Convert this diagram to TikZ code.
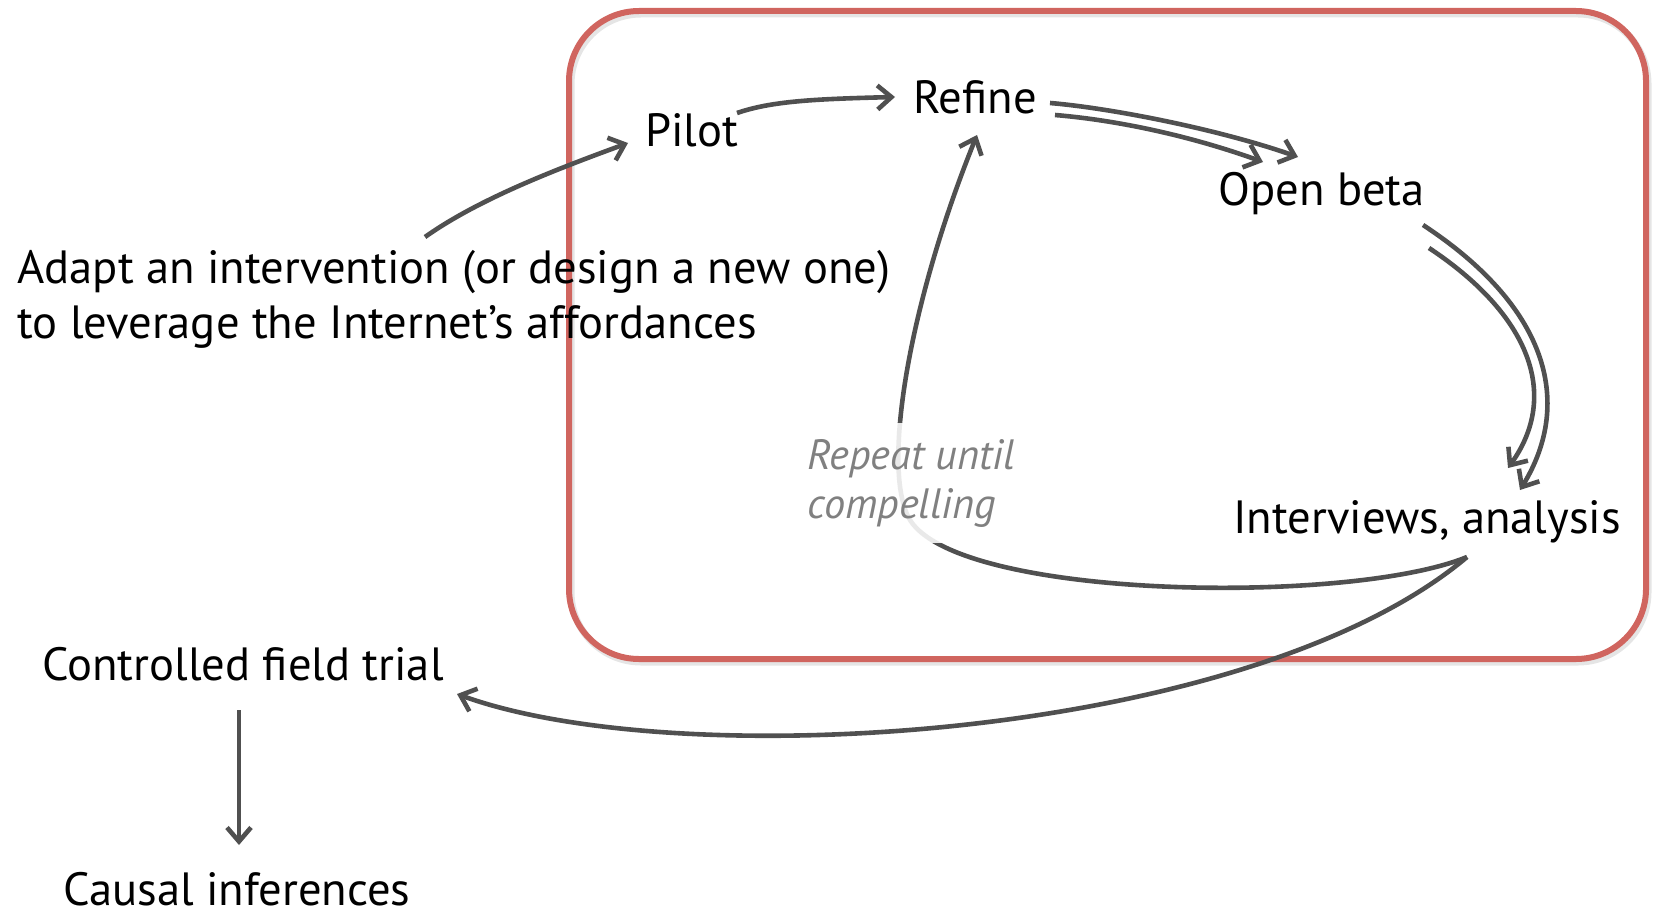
\documentclass[tikz,border=0pt]{standalone}
\usepackage{fontspec}
\setmainfont{PT Sans}
\usepackage{tikz}
\usetikzlibrary{arrows.meta,calc}
\definecolor{linegray}{HTML}{505050}
\definecolor{boxred}{HTML}{D0655F}
\definecolor{notegray}{HTML}{808080}
\newcommand\lblfont{\fontsize{23.3}{27.5}\selectfont}
\newcommand\notefont{\fontsize{21.2}{24.5}\selectfont\itshape}

\begin{document}
\begin{tikzpicture}[x=0.5pt, y=-0.5pt, every node/.style={font=\lblfont, inner sep=0pt, anchor=base west}, >={Straight Barb[length=7pt, width=12pt]}, flow/.style={->, linegray, line width=2.3pt}, note/.style={font=\notefont, text=notegray, align=left, fill=white, fill opacity=0.88, text opacity=1, inner xsep=4pt, inner ysep=8pt}]
	\useasboundingbox (0,0) rectangle (1658,915);
	\draw[black!10, line width=3.5pt, rounded corners=35pt] (571,14) rectangle (1648,662);
	\draw[boxred, line width=3pt, rounded corners=35pt] (569,11) rectangle (1646,659);
	\node (adapt) at (17,338) [align=left] {Adapt an intervention (or design a new one)\\to leverage the Internet’s affordances};
	\node (pilot) at (645,147) {Pilot};
	\node (refine) at (913,113) {Refine};
	\node (openbeta) at (1218,205) {Open beta};
	\node (interviews) at (1233,533) {Interviews, analysis};
	\node (controlled) at (42,680) {Controlled field trial};
	\node (causal) at (63,905) {Causal inferences};
	\draw[flow] ($(adapt.base west)+(408,-101)$) .. controls +(55,-39) and +(-68,25) .. ($(pilot.base west)+(-17,-4)$);
	\draw[flow] ($(pilot.base west)+(92,-34)$) .. controls +(35,-12) and +(-80,2) .. ($(refine.base west)+(-18,-16)$);
	\draw[flow] ($(refine.base west)+(137,-10)$) .. controls +(60,5) and +(-80,-28) .. ($(openbeta.base west)+(80,-48)$);
	\draw[flow] ($(refine.base west)+(142,2)$) .. controls +(60,5) and +(-75,-27) .. ($(openbeta.base west)+(45,-43)$);
	\draw[flow] ($(openbeta.base west)+(205,20)$) .. controls +(122,80) and +(55,-90) .. ($(interviews.base west)+(287,-43)$);
	\draw[flow] ($(openbeta.base west)+(211,43)$) .. controls +(101,67) and +(52,-73) .. ($(interviews.base west)+(275,-65)$);
	\draw[flow] ($(interviews.base west)+(234,24)$) .. controls +(-117,48) and +(50,80) .. (910,520) .. controls (880,470) and (910,300) .. ($(refine.base west)+(64,22)$);
	\draw[flow] ($(interviews.base west)+(234,24)$) .. controls +(-217,183) and +(223,81) .. ($(controlled.base west)+(415,14)$);
	\draw[flow] ($(controlled.base west)+(197,30)$) -- ($(causal.base west)+(176,-60)$);
	\node[note] (repeat) at (799,518) {Repeat until\\compelling};
\end{tikzpicture}
\end{document}
